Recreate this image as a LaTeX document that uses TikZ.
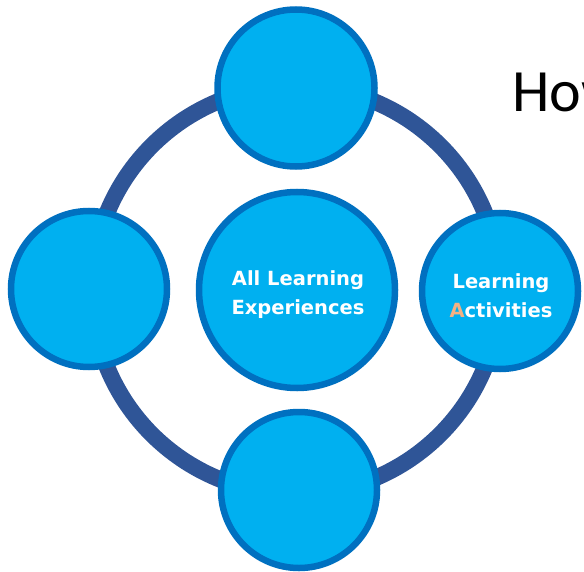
\documentclass[tikz,border=0pt]{standalone}
\usepackage{fontspec}
\newfontfamily\boldsans{DejaVu Sans Bold}
\newfontfamily\howfont{Carlito}
\definecolor{ringblue}{HTML}{2F5597}
\definecolor{fillblue}{HTML}{00B0F0}
\definecolor{edgeblue}{HTML}{0070C0}
\definecolor{accentorange}{HTML}{F4B183}
\begin{document}
\begin{tikzpicture}[x=1bp,y=-1bp,
  bubble/.style={circle,draw=edgeblue,fill=fillblue,line width=6.5bp,inner sep=0pt},
  label/.style={text=white,font=\boldsans\fontsize{19.5bp}{29bp}\selectfont,align=center}]
\useasboundingbox (0,0) rectangle (584,572);
\clip (0,0) rectangle (584,572);
\node[font=\howfont\fontsize{60bp}{60bp}\selectfont,anchor=base west,inner sep=0pt] (how) at (512,112) {How};
\coordinate (hub) at (296,290);
\draw[ringblue,line width=16.5bp] (hub) circle[radius=204];
\node[bubble,minimum size=157bp] (top) at (296,88) {};
\node[bubble,minimum size=156bp] (left) at (89,289) {};
\node[bubble,minimum size=156bp] (right) at (500,291) {};
\node[bubble,minimum size=156bp] (bottom) at (299,490) {};
\node[bubble,minimum size=196bp] (center) at (297,290) {};
\node[label] (ctext) at (298,295) {All Learning\\Experiences};
\node[label] (rtext) at (501,296) {Learning\\{\color{accentorange}A}ctivities};
\end{tikzpicture}
\end{document}
